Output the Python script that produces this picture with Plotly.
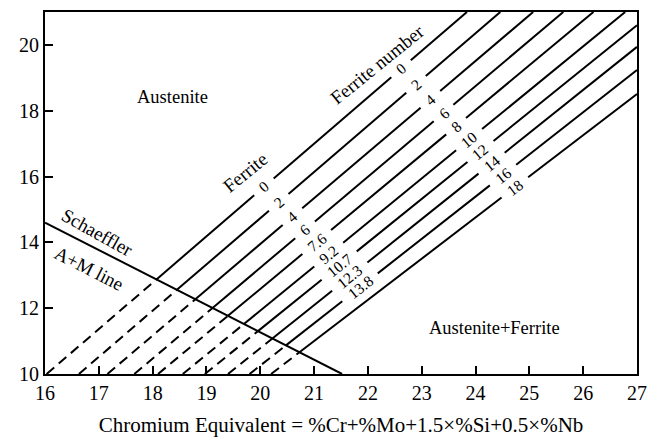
import plotly.graph_objects as go
import numpy as np

# ---------------- data ----------------
cr_ticks = [16, 17, 18, 19, 20, 21, 22, 23, 24, 25, 26, 27]
ni_ticks = [10, 12, 14, 16, 18, 20]

ferrite_number = ["0", "2", "4", "6", "8", "10", "12", "14", "16", "18"]
ferrite_percent = ["0", "2", "4", "6", "7.6", "9.2", "10.7", "12.3", "13.8", ""]

# iso-ferrite lines: start point (on Ni_eq = 10) and end point (plot border)
line_cr_start = [16.03, 16.63, 17.16, 17.66, 18.10, 18.56, 18.97, 19.40, 19.80, 20.20]
line_ni_start = [10, 10, 10, 10, 10, 10, 10, 10, 10, 10]
line_cr_end = [23.84, 24.46, 25.07, 25.63, 26.19, 26.78, 27.0, 27.0, 27.0, 27.0]
line_ni_end = [21.0, 21.0, 21.0, 21.0, 21.0, 21.0, 20.60, 19.94, 19.24, 18.51]

# Schaeffler A+M line
schaeffler_cr = [16.0, 21.52]
schaeffler_ni = [14.6, 10.0]

# ---------------- layout constants ----------------
W, H = 652, 437
ML, MR, MT, MB = 45, 15, 12, 63
XR = [16, 27]
YR = [10, 21]
PX = (W - ML - MR) / (XR[1] - XR[0])
PY = (H - MT - MB) / (YR[1] - YR[0])
FONT = "Liberation Serif"
NUM_FS = 15.5
PAD_PX = 9

# label guide lines (data coords) on which the numbers sit
low_guide = ((20.06, 15.70), (21.92, 12.52))
up_guide = ((22.66, 19.20), (24.76, 15.62))


def intersect(p1, p2, q1, q2):
    (x1, y1), (x2, y2) = p1, p2
    (x3, y3), (x4, y4) = q1, q2
    d = (x1 - x2) * (y3 - y4) - (y1 - y2) * (x3 - x4)
    t = ((x1 - x3) * (y3 - y4) - (y1 - y3) * (x3 - x4)) / d
    return x1 + t * (x2 - x1), y1 + t * (y2 - y1)


def text_len(t):
    return sum(0.25 if c == "." else 0.5 for c in t) * NUM_FS


sch_p1 = (schaeffler_cr[0], schaeffler_ni[0])
sch_p2 = (schaeffler_cr[1], schaeffler_ni[1])

solid_x, solid_y, dash_x, dash_y = [], [], [], []
annotations = []

for i in range(len(ferrite_number)):
    a = (line_cr_start[i], line_ni_start[i])
    b = (line_cr_end[i], line_ni_end[i])
    s = (b[1] - a[1]) / (b[0] - a[0])
    f = lambda x: a[1] + s * (x - a[0])
    ang = -np.degrees(np.arctan2(PY * s, PX))
    xi, yi = intersect(a, b, sch_p1, sch_p2)
    dash_x += [a[0], xi, None]
    dash_y += [a[1], yi, None]

    per_x = np.hypot(PX, PY * s)
    cuts = []
    labels = []
    if ferrite_percent[i]:
        labels.append((ferrite_percent[i], low_guide))
    labels.append((ferrite_number[i], up_guide))
    for txt, guide in labels:
        lx, ly = intersect(a, b, *guide)
        half = (text_len(txt) / 2 + PAD_PX) / per_x
        cuts.append((lx, half))
        annotations.append(dict(x=lx, y=ly, text=txt, textangle=ang,
                                showarrow=False,
                                font=dict(family=FONT, size=NUM_FS, color="black")))
    cuts.sort()
    xs = xi
    for c, half in cuts:
        solid_x += [xs, c - half, None]
        solid_y += [f(xs), f(c - half), None]
        xs = c + half
    solid_x += [xs, b[0], None]
    solid_y += [f(xs), b[1], None]

fig = go.Figure()
fig.add_trace(go.Scatter(x=dash_x, y=dash_y, mode="lines", hoverinfo="skip",
                         line=dict(color="black", width=2, dash="10px,6px")))
fig.add_trace(go.Scatter(x=solid_x, y=solid_y, mode="lines", hoverinfo="skip",
                         line=dict(color="black", width=2)))
fig.add_trace(go.Scatter(x=schaeffler_cr, y=schaeffler_ni, mode="lines", hoverinfo="skip",
                         line=dict(color="black", width=2)))

texts = [
    ("Austenite", 18.36, 18.42, 0, 18.5),
    ("Austenite+Ferrite", 24.35, 11.40, 0, 18.5),
    ("Ferrite number", 22.17, 19.42, -39, 19),
    ("Ferrite", 19.72, 16.12, -39, 19),
    ("Schaeffler", 16.97, 14.29, 29, 19),
    ("A+M line", 16.82, 13.22, 27, 19),
]
for t, x, y, ang, sz in texts:
    annotations.append(dict(x=x, y=y, text=t, textangle=ang, showarrow=False,
                            font=dict(family=FONT, size=sz, color="black")))

axis_common = dict(showgrid=False, zeroline=False, showline=True, mirror=True,
                   linecolor="black", linewidth=2, ticks="inside", ticklen=8,
                   tickwidth=2, tickcolor="black", automargin=False,
                   tickfont=dict(family=FONT, size=20, color="black"))

fig.update_layout(
    width=W, height=H,
    margin=dict(l=ML, r=MR, t=MT, b=MB),
    paper_bgcolor="white", plot_bgcolor="white",
    showlegend=False,
    annotations=annotations,
    xaxis=dict(range=XR, tickvals=cr_ticks, ticktext=[str(v) for v in cr_ticks],
               title=dict(text="Chromium Equivalent = %Cr+%Mo+1.5×%Si+0.5×%Nb",
                          font=dict(family=FONT, size=21, color="black"), standoff=14),
               **axis_common),
    yaxis=dict(range=YR, tickvals=ni_ticks, ticktext=[str(v) for v in ni_ticks],
               **axis_common),
)

fig.write_html("out.html")
